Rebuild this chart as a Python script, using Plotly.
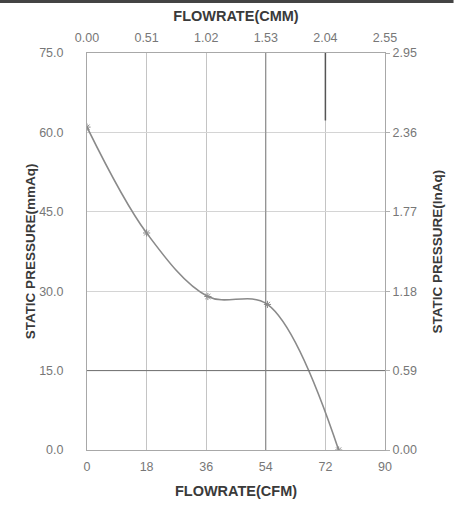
import plotly.graph_objects as go

# fan curve
cfm = [0, 18, 36.5, 54.5, 76]
mmaq = [61, 41, 29, 27.5, 0]

cfm_ticks = [0, 18, 36, 54, 72, 90]
mmaq_ticks = [0, 15, 30, 45, 60, 75]
cmm_ticks = [0.00, 0.51, 1.02, 1.53, 2.04, 2.55]
inaq_ticks = [0.00, 0.59, 1.18, 1.77, 2.36, 2.95]

# unit conversions for the secondary axes
cmm = [v * 0.02833 for v in cfm]
inaq = [v / 25.4 for v in mmaq]

FONT = "Liberation Sans, Arial, sans-serif"
TICK = dict(family=FONT, size=12.5, color="#777")
HTITLE = dict(family=FONT, size=14.5, color="#3a3a3a")
VTITLE = dict(family=FONT, size=13.5, color="#3a3a3a")
CLEAR = "rgba(0,0,0,0)"

fig = go.Figure()

fig.add_trace(go.Scatter(
    x=cfm, y=mmaq,
    mode="lines+markers",
    line=dict(color="#8a8a8a", width=1.6, shape="spline", smoothing=1),
    marker=dict(symbol="asterisk-open", size=6, color="#8a8a8a",
                line=dict(color="#8a8a8a", width=1)),
    showlegend=False,
))

# invisible copy so the top and right axes get drawn
fig.add_trace(go.Scatter(
    x=cmm, y=inaq, xaxis="x2", yaxis="y2",
    mode="lines", line=dict(width=0), opacity=0,
    hoverinfo="skip", showlegend=False,
))

fig.update_layout(
    width=458, height=508,
    margin=dict(l=87, r=73, t=53, b=58),
    paper_bgcolor="white", plot_bgcolor="white",
    xaxis=dict(
        range=[0, 90], tickvals=cfm_ticks, ticktext=[str(v) for v in cfm_ticks],
        tickfont=TICK, showgrid=True, gridcolor="#c4c4c4", gridwidth=1,
        showline=True, linecolor="#a8a8a8", zeroline=False,
        ticks="outside", ticklen=5, tickcolor=CLEAR, automargin=False,
        title=dict(text="<b>FLOWRATE(CFM)</b>", font=HTITLE, standoff=12),
    ),
    yaxis=dict(
        range=[0, 75], tickvals=mmaq_ticks, ticktext=[f"{v:.1f}" for v in mmaq_ticks],
        tickfont=TICK, showgrid=True, gridcolor="#d4d4d4", gridwidth=1,
        showline=True, linecolor="#a8a8a8", zeroline=False,
        ticks="outside", ticklen=20, tickcolor=CLEAR, automargin=False,
        title=dict(text="<b>STATIC PRESSURE(mmAq)</b>", font=VTITLE, standoff=0),
    ),
    xaxis2=dict(
        overlaying="x", side="top", range=[0, 2.55],
        tickvals=cmm_ticks, ticktext=[f"{v:.2f}" for v in cmm_ticks],
        tickfont=TICK, showgrid=False, showline=True, linecolor="#a8a8a8",
        zeroline=False, ticks="outside", ticklen=5, tickcolor=CLEAR,
        automargin=False,
        title=dict(text="<b>FLOWRATE(CMM)</b>", font=HTITLE, standoff=5),
    ),
    yaxis2=dict(
        overlaying="y", side="right", range=[0, 2.95],
        tickvals=inaq_ticks, ticktext=[f"{v:.2f}" for v in inaq_ticks],
        tickfont=TICK, showgrid=False, showline=True, linecolor="#a8a8a8",
        zeroline=False, ticks="outside", ticklen=4, tickcolor="#b0b0b0",
        automargin=False,
        title=dict(text="<b>STATIC PRESSURE(InAq)</b>", font=VTITLE, standoff=16),
    ),
    shapes=[
        # dark strip along the top edge of the image
        dict(type="line", xref="paper", yref="paper", x0=-0.292, x1=1.23,
             y0=1.130, y1=1.130, line=dict(color="#444", width=3)),
        # the darker grid lines in the scan
        dict(type="line", xref="paper", yref="y", x0=0, x1=1, y0=15, y1=15,
             line=dict(color="#707070", width=1)),
        dict(type="line", xref="x", yref="paper", x0=54, x1=54, y0=0, y1=1,
             line=dict(color="#808080", width=1)),
        dict(type="line", xref="x", yref="paper", x0=72, x1=72, y0=0.83, y1=1,
             line=dict(color="#555", width=1.5)),
    ],
)

# drop the page's default body margin so the figure sits at the top-left corner
fig.write_html("out.html", config={"displayModeBar": False},
               post_script="document.body.style.margin='0px';")
